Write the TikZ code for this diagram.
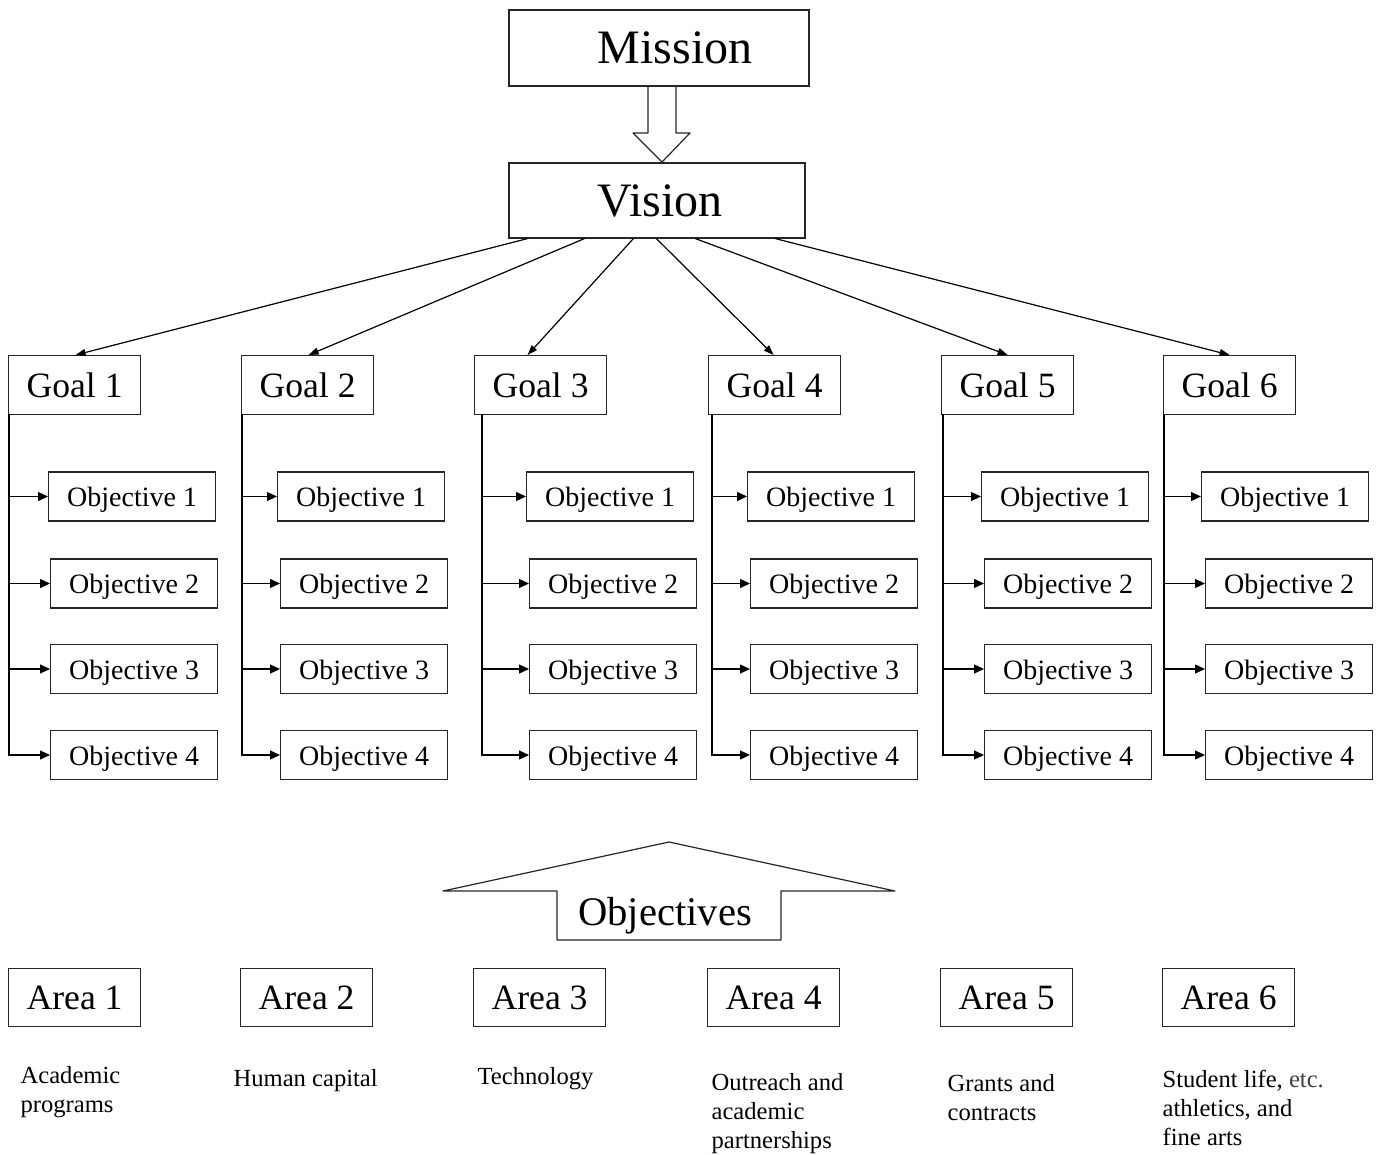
\documentclass[tikz,border=0pt]{standalone}
\usepackage{fontspec}
\setmainfont{Liberation Serif}
\usetikzlibrary{arrows.meta}

\begin{document}
\begin{tikzpicture}[
            x = 0.5pt, y = -0.5pt,
            > = {Triangle[length=5pt, width=4.5pt]},
            line width = 0.6pt,
            box/.style = {draw = black!85, rectangle, inner sep = 0pt},
            topbox/.style = {box, minimum width = 150pt, minimum height = 38pt,
                font = \fontsize{24}{28}\selectfont, text height = 16pt, text depth = 0pt},
            goalbox/.style = {box, minimum width = 66pt, minimum height = 29.5pt,
                font = \fontsize{17.8}{21}\selectfont, text height = 12pt, text depth = 0pt},
            objbox/.style = {box, minimum width = 83.5pt, minimum height = 24.5pt,
                font = \fontsize{14}{17}\selectfont, text height = 10pt, text depth = 0pt},
            areabox/.style = {box, minimum width = 66pt, minimum height = 29pt,
                font = \fontsize{17.8}{21}\selectfont, text height = 12pt, text depth = 0pt},
            note/.style = {anchor = north west, align = left, inner sep = 0pt,
                font = \fontsize{12.3}{14.6}\selectfont}
        ]
        \useasboundingbox (0,0) rectangle (1380,1155);

        % mission and vision
        \node[topbox] (mission) at (659,48) {\hspace*{16pt}Mission};
        \node[topbox, minimum width = 148pt, minimum height = 37.5pt] (vision) at (657,200.5) {\hspace*{3pt}Vision};
        \draw[black!85, line join = round] (648,86) -- (648,133) -- (633,133) -- (662,162)
            -- (690,133) -- (676,133) -- (676,86);

        % goals and their objectives
        \foreach \i/\gx/\lx/\oa/\ob in {1/8/9/48/50, 2/241/242/277/280, 3/474/482/526/529,
                4/708/712/747/750, 5/941/943/981/984, 6/1163/1164/1201/1205} {
            \node[goalbox, anchor = north west] (goal\i) at (\gx,355) {Goal \i};
            \node[objbox, anchor = west] (obj\i-1) at (\oa,496.5) {Objective 1};
            \foreach \j/\y in {2/583.5, 3/669, 4/755}
                \node[objbox, anchor = west] (obj\i-\j) at (\ob,\y) {Objective \j};
            \coordinate (trunk\i) at (\lx,414);
            \draw[->] (trunk\i) |- (obj\i-4.west);
            \foreach \j in {1,2,3}
                \draw[->] (trunk\i |- obj\i-\j.west) -- (obj\i-\j.west);
        }

        \foreach \i/\s/\e in {1/9.5/0.5, 2/38/0.5, 3/62.5/-6.5, 4/74/-0.5, 5/93.5/0, 6/133.5/0}
            \draw[->, > = {Triangle[length=5pt, width=3.5pt]}]
                ([xshift=\s pt]vision.south west) -- ([xshift=\e pt]goal\i.north);

        % objectives arrow
        \draw[black!85, line join = round] (669,842) -- (895,891) -- (781,891) -- (781,940)
            -- (557,940) -- (557,891) -- (443,891) -- cycle;
        \node[inner sep = 0pt, font = \fontsize{20.3}{24}\selectfont,
            text height = 13.5pt, text depth = 0pt] (objectives) at (665,911.5) {Objectives};

        % areas
        \foreach \i/\ax in {1/8, 2/240, 3/473, 4/707, 5/940, 6/1162}
            \node[areabox, anchor = north west] (area\i) at (\ax,968) {Area \i};

        \node[note] (note1) at (20,1062) {\strut Academic\\programs};
        \node[note] (note2) at (233,1065) {\strut Human capital};
        \node[note] (note3) at (477,1063) {\strut Technology};
        \node[note] (note4) at (711,1069) {\strut Outreach and\\academic\\partnerships};
        \node[note] (note5) at (947,1070) {\strut Grants and\\contracts};
        \node[note] (note6) at (1162,1066) {\strut Student life, \textcolor{black!75}{etc.}\\athletics, and\\fine arts};
\end{tikzpicture}
\end{document}
